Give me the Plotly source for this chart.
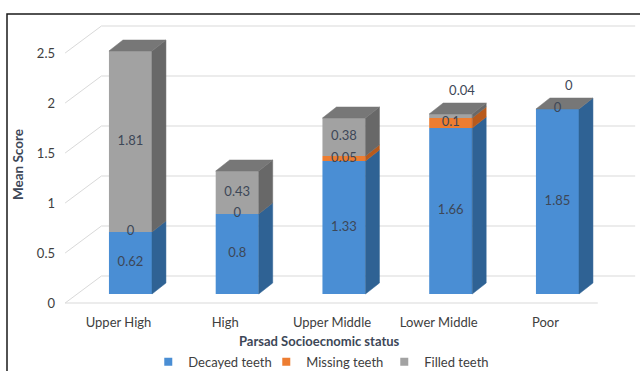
import plotly.graph_objects as go

categories = ["Upper High", "High", "Upper Middle", "Lower Middle", "Poor"]
decayed = [0.62, 0.8, 1.33, 1.66, 1.85]
missing = [0, 0, 0.05, 0.1, 0]
filled = [1.81, 0.43, 0.38, 0.04, 0]
series_names = ["Decayed teeth", "Missing teeth", "Filled teeth"]
y_ticks = [0, 0.5, 1, 1.5, 2, 2.5]

# 3D geometry (in axis units)
BAR_SHIFT_X, BAR_SHIFT_Y = 0.112, 0.09      # bar plane behind front floor edge
DEPTH_X, DEPTH_Y = 0.131, 0.11              # bar depth
WALL_X, WALL_Y = 0.34, 0.27                 # back wall depth
BAR_W = 0.403
FLOOR_L, FLOOR_R, WALL_R = -0.5, 4.49, 4.84

front_cols = ["#4a8ed4", "#ed7d31", "#a2a2a2"]
side_cols = ["#2f6294", "#b85a1c", "#686868"]
legend_cols = ["#4a8ed4", "#ed7d31", "#a2a2a2"]
top_col = "#777777"
label_col = "#3d4757"

xs = [i + BAR_SHIFT_X for i in range(len(categories))]
series = [decayed, missing, filled]

fig = go.Figure()

# front faces
bases = [BAR_SHIFT_Y] * len(categories)
seg_bounds = []
for k, vals in enumerate(series):
    fig.add_trace(go.Bar(
        x=xs, y=vals, base=list(bases), width=BAR_W, name=series_names[k],
        marker=dict(color=front_cols[k], line=dict(width=0)),
        showlegend=False,
    ))
    seg_bounds.append([(b, b + v) for b, v in zip(bases, vals)])
    bases = [b + v for b, v in zip(bases, vals)]

# side faces
for k in range(3):
    for i, x in enumerate(xs):
        lo, hi = seg_bounds[k][i]
        if hi - lo <= 0:
            continue
        xr = x + BAR_W / 2
        fig.add_trace(go.Scatter(
            x=[xr, xr + DEPTH_X, xr + DEPTH_X, xr, xr],
            y=[lo, lo + DEPTH_Y, hi + DEPTH_Y, hi, lo],
            mode="lines", fill="toself", fillcolor=side_cols[k],
            line=dict(width=0.5, color=side_cols[k]),
            showlegend=False, hoverinfo="skip"))

# top faces
for i, x in enumerate(xs):
    t = bases[i]
    xl, xr = x - BAR_W / 2, x + BAR_W / 2
    fig.add_trace(go.Scatter(
        x=[xl, xl + DEPTH_X, xr + DEPTH_X, xr, xl],
        y=[t, t + DEPTH_Y, t + DEPTH_Y, t, t],
        mode="lines", fill="toself", fillcolor=top_col,
        line=dict(width=0.5, color=top_col),
        showlegend=False, hoverinfo="skip"))

# data labels
lx, ly, lt = [], [], []
for k, vals in enumerate(series):
    for i, x in enumerate(xs):
        lo, hi = seg_bounds[k][i]
        v = vals[i]
        if k == 2 and v < 0.1:
            lx.append(x + DEPTH_X / 2 + 0.04)
            ly.append(bases[i] + DEPTH_Y + 0.11)
        else:
            lx.append(x)
            ly.append((lo + hi) / 2)
        lt.append(f"{v:g}")
fig.add_trace(go.Scatter(
    x=lx, y=ly, text=lt, mode="text", textposition="middle center",
    textfont=dict(family="Lato", size=13, color=label_col),
    showlegend=False, hoverinfo="skip"))

# legend entries (small square swatches)
for k in range(3):
    fig.add_trace(go.Scatter(
        x=[None], y=[None], mode="markers", name=series_names[k],
        marker=dict(symbol="square", size=8, color=legend_cols[k]),
        showlegend=True, hoverinfo="skip"))

# gridlines (side wall diagonal + back wall)
shapes = []
for v in y_ticks:
    shapes.append(dict(type="line", xref="x", yref="y", layer="below",
                       x0=FLOOR_L, y0=v, x1=FLOOR_L + WALL_X, y1=v + WALL_Y,
                       line=dict(color="#d9d9d9", width=1)))
    shapes.append(dict(type="line", xref="x", yref="y", layer="below",
                       x0=FLOOR_L + WALL_X, y0=v + WALL_Y, x1=WALL_R, y1=v + WALL_Y,
                       line=dict(color="#d9d9d9", width=1)))
shapes.append(dict(type="line", xref="x", yref="y", layer="below",
                   x0=FLOOR_L, y0=0, x1=FLOOR_R, y1=0,
                   line=dict(color="#d9d9d9", width=1)))
# outer frame
shapes.append(dict(type="rect", xref="paper", yref="paper",
                   x0=-0.0839, y0=-0.6, x1=1.2, y1=1.0,
                   line=dict(color="#1a1a1a", width=1.5), fillcolor="rgba(0,0,0,0)"))

fig.update_layout(
    width=640, height=371,
    margin=dict(l=56, r=0, t=14, b=62, autoexpand=False),
    paper_bgcolor="white", plot_bgcolor="white",
    barmode="overlay",
    showlegend=True,
    legend=dict(orientation="h", x=0.158, xanchor="left", y=-0.128, yanchor="top",
                font=dict(family="Lato", size=13, color="#404040"),
                itemwidth=30, entrywidth=73, entrywidthmode="pixels",
                bgcolor="rgba(0,0,0,0)"),
    xaxis=dict(range=[-0.5855, 4.8852], tickvals=list(range(len(categories))),
               ticktext=categories, showgrid=False, zeroline=False, showline=False,
               ticks="", ticklabelstandoff=4,
               tickfont=dict(family="Lato", size=13, color="#404040")),
    yaxis=dict(range=[-0.06, 2.89], tickvals=y_ticks,
               ticktext=[f"{v:g}" for v in y_ticks],
               showgrid=False, zeroline=False, showline=False, ticks="",
               tickfont=dict(family="Lato", size=13, color="#404040")),
    shapes=shapes,
    annotations=[
        dict(text="<b>Parsad Socioecnomic status</b>", xref="paper", yref="paper",
             x=0.452, y=-0.108, xanchor="center", yanchor="middle", showarrow=False,
             font=dict(family="Lato", size=13, color="#3d4757")),
        dict(text="<b>Mean Score</b>", xref="paper", yref="paper",
             x=-0.065, y=0.488, xanchor="center", yanchor="middle", showarrow=False,
             textangle=-90, font=dict(family="Lato", size=13.5, color="#3d4757")),
    ],
)

fig.write_html("out.html")
